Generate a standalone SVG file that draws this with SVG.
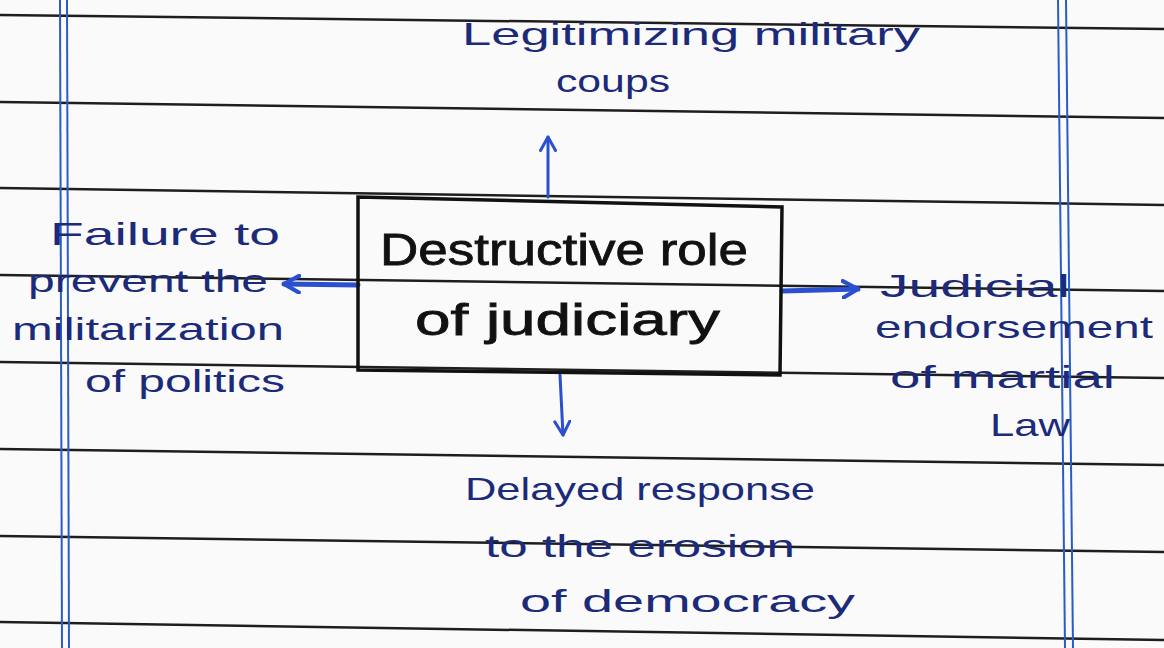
<svg xmlns="http://www.w3.org/2000/svg" width="1164" height="648" viewBox="0 0 1164 648">
<defs>
<style>
.rule{stroke:#1e1e1e;stroke-width:2.5;fill:none}
.margin{stroke:#2a5cc8;stroke-width:2;fill:none}
.box{stroke:#111;stroke-width:3.5;fill:none;stroke-linejoin:miter}
.main{font-family:"Liberation Sans",Arial,sans-serif;font-size:44px;fill:#111;stroke:#111;stroke-width:0.8}
.lbl{font-family:"Liberation Sans",Arial,sans-serif;font-size:32px;fill:#1c2a7a}
.conn{stroke:#2a50d0;stroke-width:3;fill:none;stroke-linecap:round}
.thick{stroke-width:5}
</style>
<marker id="ah" viewBox="0 0 12 12" refX="10" refY="6" markerWidth="6" markerHeight="6" orient="auto" markerUnits="strokeWidth">
<path d="M1,1 L10,6 L1,11" fill="none" stroke="#2a50d0" stroke-width="2" stroke-linecap="round" stroke-linejoin="round"/>
</marker>
<marker id="ahs" viewBox="0 0 12 12" refX="10" refY="6" markerWidth="4" markerHeight="4" orient="auto" markerUnits="strokeWidth">
<path d="M1,1 L10,6 L1,11" fill="none" stroke="#2a50d0" stroke-width="2.5" stroke-linecap="round" stroke-linejoin="round"/>
</marker>
</defs>
<rect x="0" y="0" width="1164" height="648" fill="#fafafa"/>
<g id="paper">
<line class="rule" x1="0" y1="15" x2="1164" y2="29"/>
<line class="rule" x1="0" y1="102" x2="1164" y2="118"/>
<line class="rule" x1="0" y1="188" x2="1164" y2="205"/>
<line class="rule" x1="0" y1="275" x2="1164" y2="291"/>
<line class="rule" x1="0" y1="362" x2="1164" y2="378"/>
<line class="rule" x1="0" y1="449" x2="1164" y2="465"/>
<line class="rule" x1="0" y1="536" x2="1164" y2="552"/>
<line class="rule" x1="0" y1="622" x2="1164" y2="640"/>
<line class="margin" x1="60" y1="0" x2="62" y2="648"/>
<line class="margin" x1="67" y1="0" x2="69" y2="648"/>
<line class="margin" x1="1058" y1="0" x2="1065" y2="648"/>
<line class="margin" x1="1066" y1="0" x2="1073" y2="648"/>
</g>
<g id="connectors">
<line class="conn" x1="548" y1="197" x2="548" y2="137" marker-end="url(#ah)"/>
<line class="conn thick" x1="358" y1="285" x2="284" y2="284" marker-end="url(#ahs)"/>
<line class="conn thick" x1="782" y1="291" x2="858" y2="289" marker-end="url(#ahs)"/>
<line class="conn" x1="560" y1="375" x2="563" y2="435" marker-end="url(#ah)"/>
</g>
<g id="center">
<path class="box" d="M358,197 L782,207 L780,375 L358,370 Z"/>
<text class="main" x="380" y="265" textLength="368" lengthAdjust="spacingAndGlyphs">Destructive role</text>
<text class="main" x="415" y="335" textLength="305" lengthAdjust="spacingAndGlyphs">of judiciary</text>
</g>
<g id="top">
<text class="lbl" x="462" y="45" textLength="458" lengthAdjust="spacingAndGlyphs">Legitimizing military</text>
<text class="lbl" x="556" y="92" textLength="114" lengthAdjust="spacingAndGlyphs">coups</text>
</g>
<g id="left">
<text class="lbl" x="50" y="245" textLength="230" lengthAdjust="spacingAndGlyphs">Failure to</text>
<text class="lbl" x="28" y="292" textLength="240" lengthAdjust="spacingAndGlyphs">prevent the</text>
<text class="lbl" x="12" y="340" textLength="272" lengthAdjust="spacingAndGlyphs">militarization</text>
<text class="lbl" x="85" y="392" textLength="200" lengthAdjust="spacingAndGlyphs">of politics</text>
</g>
<g id="right">
<text class="lbl" x="880" y="297" textLength="190" lengthAdjust="spacingAndGlyphs">Judicial</text>
<text class="lbl" x="875" y="338" textLength="278" lengthAdjust="spacingAndGlyphs">endorsement</text>
<text class="lbl" x="890" y="388" textLength="225" lengthAdjust="spacingAndGlyphs">of martial</text>
<text class="lbl" x="990" y="436" textLength="80" lengthAdjust="spacingAndGlyphs">Law</text>
</g>
<g id="bottom">
<text class="lbl" x="465" y="500" textLength="350" lengthAdjust="spacingAndGlyphs">Delayed response</text>
<text class="lbl" x="485" y="557" textLength="310" lengthAdjust="spacingAndGlyphs">to the erosion</text>
<text class="lbl" x="520" y="612" textLength="335" lengthAdjust="spacingAndGlyphs">of democracy</text>
</g>
</svg>
